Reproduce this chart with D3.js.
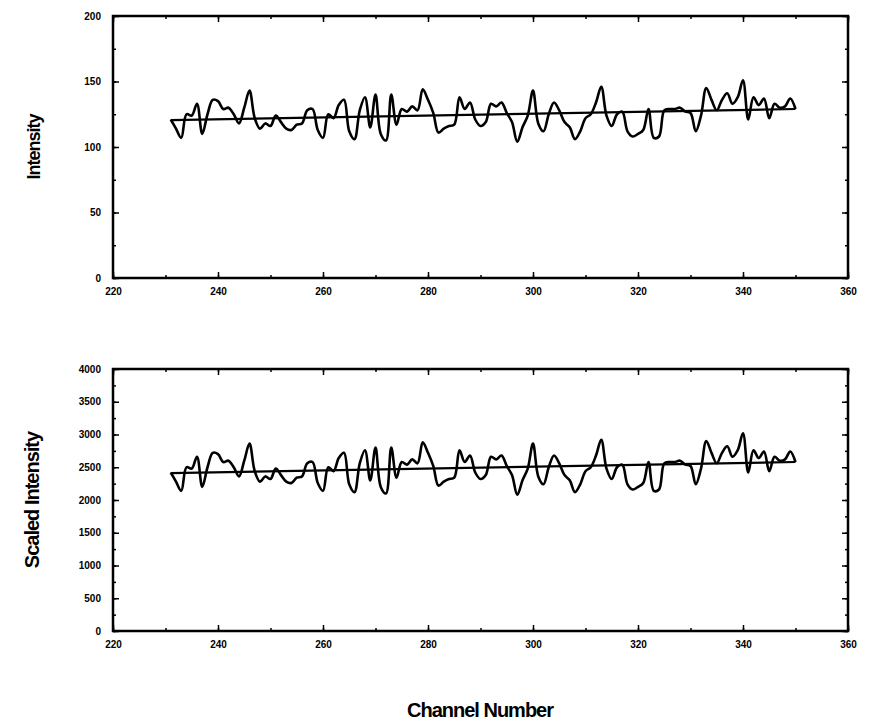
<!DOCTYPE html>
<html>
<head>
<meta charset="utf-8">
<script src="https://cdn.jsdelivr.net/npm/d3@7"></script>
<style>
  body { margin: 0; background: #fff; }
  svg { display: block; }
  .tick text { font-family: "Liberation Sans", Arial, sans-serif; font-weight: bold; font-size: 10px; }
  .title { font-family: "Liberation Sans", Arial, sans-serif; fill: #000; font-weight: bold; }
</style>
</head>
<body>
<svg id="drawing_region"></svg>
<script>
// channel numbers 231..350
var channels = [
  231,232,233,234,235,236,237,238,239,240,241,242,243,244,245,246,247,248,249,250,
  251,252,253,254,255,256,257,258,259,260,261,262,263,264,265,266,267,268,269,270,
  271,272,273,274,275,276,277,278,279,280,281,282,283,284,285,286,287,288,289,290,
  291,292,293,294,295,296,297,298,299,300,301,302,303,304,305,306,307,308,309,310,
  311,312,313,314,315,316,317,318,319,320,321,322,323,324,325,326,327,328,329,330,
  331,332,333,334,335,336,337,338,339,340,341,342,343,344,345,346,347,348,349,350
];

var intensity = [
  121,114,107,125,124,133,110,125,136,135,129,130,125,118,130,143,122,114,118,116,
  124,119,114,113,117,118,128,129,113,107,125,122,132,136,112,106,128,138,115,140,
  110,105,140,117,129,127,131,128,144,136,126,111,114,116,117,138,129,134,121,116,
  119,133,131,134,126,119,104,115,124,143,118,112,125,134,128,119,115,106,112,122,
  125,134,146,124,116,125,127,112,108,110,113,129,107,108,128,129,129,130,127,126,
  112,124,145,136,128,136,141,133,138,151,121,138,132,137,122,133,130,131,137,129
];

var scaledIntensity = [
  2420,2280,2140,2500,2480,2660,2200,2500,2720,2700,2580,2600,2500,2360,2600,2860,2440,2280,2360,2320,
  2480,2380,2280,2260,2340,2360,2560,2580,2260,2140,2500,2440,2640,2720,2240,2120,2560,2760,2300,2800,
  2200,2100,2800,2340,2580,2540,2620,2560,2880,2720,2520,2220,2280,2320,2340,2760,2580,2680,2420,2320,
  2380,2660,2620,2680,2520,2380,2080,2300,2480,2860,2360,2240,2500,2680,2560,2380,2300,2120,2240,2440,
  2500,2680,2920,2480,2320,2500,2540,2240,2160,2200,2260,2580,2140,2160,2560,2580,2580,2600,2540,2520,
  2240,2480,2900,2720,2560,2720,2820,2660,2760,3020,2420,2760,2640,2740,2440,2660,2600,2620,2740,2580
];

// linear fit end points [channel, value]
var intensityFit = [[231, 120.5], [350, 129]];
var scaledFit = [[231, 2410], [350, 2580]];

var xTicks = [220, 240, 260, 280, 300, 320, 340, 360];
var intensityTicks = [0, 50, 100, 150, 200];
var scaledTicks = [0, 500, 1000, 1500, 2000, 2500, 3000, 3500, 4000];

class PanelChart {

    constructor(config, xs, ys, fit) {
        this.config = {
            parent: config.parent,
            top: config.top,
            left: config.left || 113,
            width: config.width || 735,
            height: config.height || 262,
            ymax: config.ymax,
            yticks: config.yticks
        };
        this.xs = xs;
        this.ys = ys;
        this.fit = fit;
        this.init();
    }

    init() {
        let self = this;
        let c = self.config;

        self.chart = d3.select(c.parent).append('g')
            .attr('transform', `translate(${c.left}, ${c.top})`);

        self.xscale = d3.scaleLinear().domain([220, 360]).range([0, c.width]);
        self.yscale = d3.scaleLinear().domain([0, c.ymax]).range([c.height, 0]);

        let xminor = d3.range(220, 361, 10);
        let ystep = c.yticks[1] - c.yticks[0];
        let yminor = d3.range(0, c.ymax + 1, ystep / 2);

        // minor ticks, inward on all four sides
        const axes = [
            [d3.axisBottom(self.xscale), c.height, 0, xminor],
            [d3.axisTop(self.xscale), 0, 0, xminor],
            [d3.axisLeft(self.yscale), 0, 0, yminor],
            [d3.axisRight(self.yscale), 0, c.width, yminor]
        ];
        axes.forEach(a => {
            self.chart.append('g')
                .attr('transform', `translate(${a[2]}, ${a[1]})`)
                .call(a[0].tickValues(a[3]).tickSize(-3).tickFormat(''))
                .call(g => g.select('.domain').remove())
                .selectAll('line').attr('stroke-width', 1.5);
        });

        // major ticks with labels
        self.chart.append('g')
            .attr('transform', `translate(0, ${c.height})`)
            .call(d3.axisBottom(self.xscale).tickValues(xTicks).tickSize(-6).tickPadding(10).tickFormat(d3.format('d')))
            .call(g => g.select('.domain').remove())
            .call(g => g.selectAll('line').attr('stroke-width', 1.5));

        self.chart.append('g')
            .call(d3.axisTop(self.xscale).tickValues(xTicks).tickSize(-6).tickFormat(''))
            .call(g => g.select('.domain').remove())
            .call(g => g.selectAll('line').attr('stroke-width', 1.5));

        self.chart.append('g')
            .call(d3.axisLeft(self.yscale).tickValues(c.yticks).tickSize(-6).tickPadding(12).tickFormat(d3.format('d')))
            .call(g => g.select('.domain').remove())
            .call(g => g.selectAll('line').attr('stroke-width', 1.5));

        self.chart.append('g')
            .attr('transform', `translate(${c.width}, 0)`)
            .call(d3.axisRight(self.yscale).tickValues(c.yticks).tickSize(-6).tickFormat(''))
            .call(g => g.select('.domain').remove())
            .call(g => g.selectAll('line').attr('stroke-width', 1.5));

        // frame
        self.chart.append('rect')
            .attr('width', c.width)
            .attr('height', c.height)
            .attr('fill', 'none')
            .attr('stroke', 'black')
            .attr('stroke-width', 2.5);
    }

    render() {
        let self = this;

        self.chart.append('line')
            .attr('x1', self.xscale(self.fit[0][0]))
            .attr('y1', self.yscale(self.fit[0][1]))
            .attr('x2', self.xscale(self.fit[1][0]))
            .attr('y2', self.yscale(self.fit[1][1]))
            .attr('stroke', 'black')
            .attr('stroke-width', 2.2);

        const line = d3.line()
            .x((d, i) => self.xscale(self.xs[i]))
            .y(d => self.yscale(d))
            .curve(d3.curveCatmullRom.alpha(0.5));

        self.chart.append('path')
            .attr('d', line(self.ys))
            .attr('fill', 'none')
            .attr('stroke', 'black')
            .attr('stroke-width', 2.6)
            .attr('stroke-linejoin', 'round');
    }
}

var svg = d3.select('#drawing_region')
    .attr('width', 878)
    .attr('height', 726);

const top_chart = new PanelChart(
    { parent: '#drawing_region', top: 16, ymax: 200, yticks: intensityTicks },
    channels, intensity, intensityFit);
top_chart.render();

const bottom_chart = new PanelChart(
    { parent: '#drawing_region', top: 369, ymax: 4000, yticks: scaledTicks },
    channels, scaledIntensity, scaledFit);
bottom_chart.render();

// axis titles
svg.append('text')
    .attr('class', 'title')
    .attr('transform', 'translate(40, 147) rotate(-90)')
    .attr('text-anchor', 'middle')
    .attr('font-size', 18)
    .attr('letter-spacing', -1)
    .text('Intensity');

svg.append('text')
    .attr('class', 'title')
    .attr('transform', 'translate(39, 500) rotate(-90)')
    .attr('text-anchor', 'middle')
    .attr('font-size', 20)
    .attr('letter-spacing', -1)
    .text('Scaled Intensity');

svg.append('text')
    .attr('class', 'title')
    .attr('x', 480)
    .attr('y', 717)
    .attr('text-anchor', 'middle')
    .attr('font-size', 20)
    .attr('letter-spacing', -1)
    .text('Channel Number');
</script>
</body>
</html>
